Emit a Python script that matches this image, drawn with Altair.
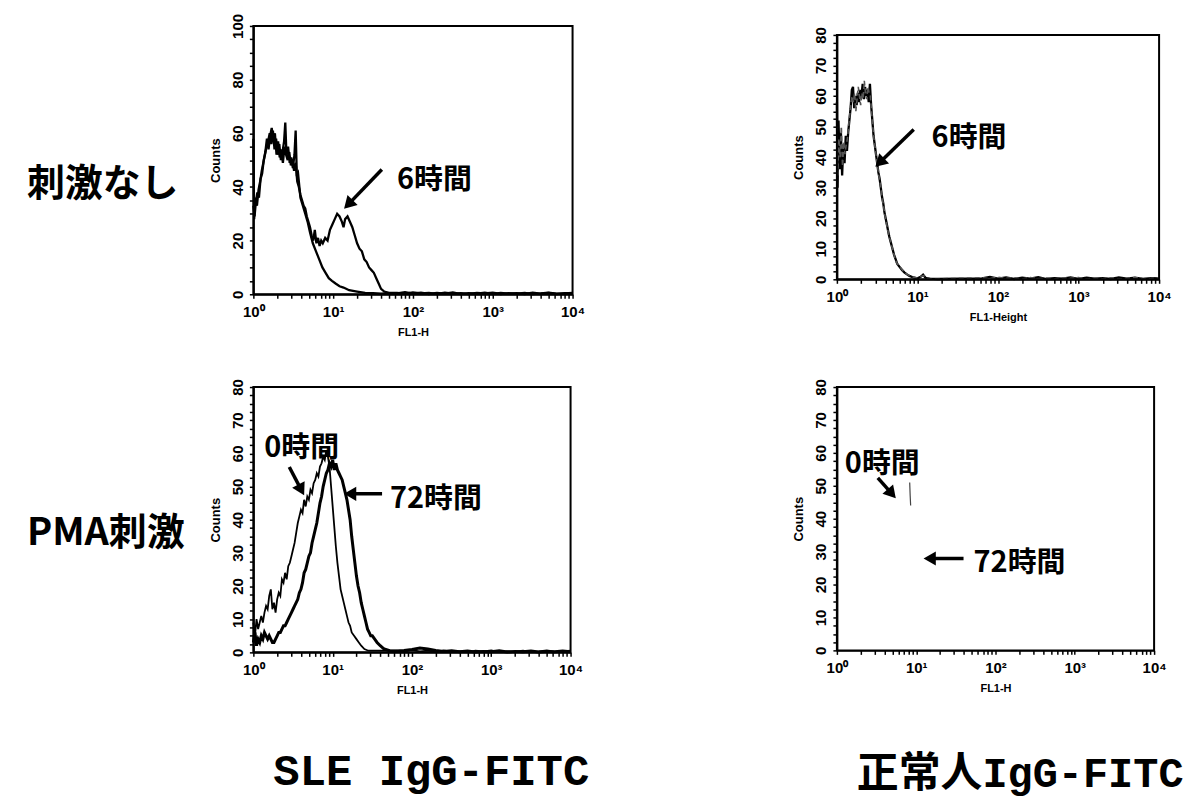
import altair as alt
import pandas as pd

# ---------------- data: log10(FL1 channel) positions and counts ----------------
# top-left panel (SLE IgG-FITC, no stimulation): 0 h and 6 h
TL_A_D = [0.000, 0.010, 0.025, 0.045, 0.065, 0.085, 0.105, 0.125, 0.145, 0.165,
          0.185, 0.205, 0.225, 0.245, 0.265, 0.285, 0.305, 0.325, 0.345, 0.365,
          0.385, 0.400, 0.415, 0.435, 0.455, 0.475, 0.495, 0.515, 0.530, 0.545,
          0.560, 0.590, 0.620, 0.650, 0.680, 0.710, 0.745, 0.785, 0.825, 0.865,
          0.905, 0.945, 0.985, 1.030, 1.080, 1.130, 1.200, 1.300, 1.400, 1.500,
          1.600, 1.700]
TL_A_Y = [58, 28, 36, 33, 39, 42, 46, 49, 52, 55,
          57, 60, 56, 61, 54, 58, 52, 56, 50, 53,
          57, 64, 52, 55, 49, 51, 47, 52, 61, 44,
          45, 36, 33, 30, 27, 23, 19, 16, 13, 10,
          8, 6, 5, 4, 3, 2.5, 1.5, 1, 0.5, 0.4,
          0.2, 0.4]
TL_B_D = [0.000, 0.015, 0.030, 0.050, 0.070, 0.090, 0.110, 0.130, 0.150, 0.170,
          0.190, 0.210, 0.230, 0.250, 0.270, 0.290, 0.310, 0.330, 0.350, 0.370,
          0.390, 0.410, 0.430, 0.450, 0.470, 0.490, 0.510, 0.530, 0.550, 0.570,
          0.590, 0.610, 0.630, 0.650, 0.670, 0.690, 0.710, 0.730, 0.750, 0.770,
          0.790, 0.810, 0.830, 0.850, 0.870, 0.900, 0.930, 0.960, 0.990, 1.020,
          1.050, 1.080, 1.110, 1.130, 1.150, 1.180, 1.210, 1.240, 1.270, 1.300,
          1.330, 1.360, 1.390, 1.420, 1.450, 1.480, 1.510, 1.540, 1.570, 1.600,
          1.640, 1.700]
TL_B_Y = [33, 29, 34, 38, 36, 43, 45, 50, 53, 58,
          54, 59, 62, 57, 60, 52, 57, 51, 54, 49,
          55, 52, 50, 53, 48, 50, 46, 49, 42, 40,
          37, 35, 33, 32, 29, 27, 25, 22, 20, 24,
          19, 21, 18, 20, 19, 21, 20, 24, 26, 28,
          30, 29, 27, 25, 28, 29, 27, 25, 22, 19,
          17, 16, 13, 12, 10, 9, 8, 6, 4, 2,
          1, 0.5]

# top-right panel (normal IgG-FITC, no stimulation)
TR_A_D = [0.000, 0.008, 0.020, 0.035, 0.050, 0.065, 0.080, 0.095, 0.110, 0.125,
          0.140, 0.155, 0.170, 0.185, 0.200, 0.215, 0.230, 0.245, 0.260, 0.275,
          0.290, 0.305, 0.320, 0.335, 0.350, 0.365, 0.380, 0.395, 0.410, 0.425,
          0.440, 0.455, 0.470, 0.485, 0.500, 0.515, 0.530, 0.545, 0.560, 0.575,
          0.590, 0.605, 0.620, 0.635, 0.650, 0.670, 0.690, 0.710, 0.730, 0.750,
          0.780, 0.810, 0.840, 0.870, 0.900, 0.950, 1.000, 1.040, 1.070, 1.100,
          1.150, 1.250]
TR_A_Y = [58, 30, 52, 36, 48, 34, 44, 38, 47, 42,
          48, 52, 56, 62, 63, 56, 60, 57, 61, 58,
          62, 60, 64, 59, 63, 60, 62, 58, 64, 57,
          52, 47, 44, 41, 38, 35, 33, 30, 27, 25,
          22, 20, 18, 16, 14, 12, 10, 8, 6.5, 5,
          4, 3, 2.2, 1.6, 1.1, 0.6, 0.3, 0.8, 1.5, 0.5,
          0.2, 0.1]
TR_B_D = [0.000, 0.010, 0.025, 0.040, 0.055, 0.070, 0.085, 0.100, 0.115, 0.130,
          0.145, 0.160, 0.175, 0.190, 0.205, 0.220, 0.235, 0.250, 0.265, 0.280,
          0.295, 0.310, 0.325, 0.340, 0.355, 0.370, 0.385, 0.400, 0.415, 0.430,
          0.445, 0.460, 0.475, 0.490, 0.505, 0.520, 0.535, 0.550, 0.565, 0.580,
          0.595, 0.610, 0.625, 0.640, 0.660, 0.680, 0.700, 0.720, 0.740, 0.770,
          0.800, 0.830, 0.860, 0.900, 0.950, 1.000, 1.050, 1.080, 1.120, 1.200]
TR_B_Y = [50, 34, 46, 40, 50, 37, 45, 41, 44, 46,
          50, 54, 58, 60, 58, 61, 55, 59, 63, 60,
          57, 61, 59, 65, 61, 59, 63, 61, 60, 55,
          50, 46, 43, 40, 37, 34, 32, 29, 26, 24,
          21, 19, 17, 15, 13, 11, 9, 7, 5.5, 4.5,
          3.5, 2.5, 1.8, 1.2, 0.7, 0.4, 1.0, 1.2, 0.3, 0.1]

# bottom-left panel (SLE IgG-FITC, PMA): 0 h and 72 h
BL_0_D = [0.00, 0.02, 0.04, 0.06, 0.08, 0.10, 0.12, 0.14, 0.16, 0.18,
          0.20, 0.22, 0.24, 0.26, 0.28, 0.30, 0.32, 0.34, 0.36, 0.38,
          0.40, 0.42, 0.44, 0.46, 0.48, 0.50, 0.52, 0.54, 0.56, 0.58,
          0.60, 0.62, 0.64, 0.66, 0.68, 0.70, 0.72, 0.74, 0.76, 0.78,
          0.80, 0.82, 0.84, 0.86, 0.88, 0.90, 0.92, 0.94, 0.96, 0.98,
          1.00, 1.02, 1.04, 1.06, 1.08, 1.10, 1.12, 1.14, 1.16, 1.18,
          1.20, 1.22, 1.24, 1.27, 1.30, 1.33, 1.36, 1.40, 1.45]
BL_0_Y = [9, 5, 10, 7, 9, 11, 9, 12, 14, 13,
          17, 19, 13, 15, 12, 16, 18, 17, 22, 21,
          24, 22, 26, 27, 29, 31, 33, 36, 39, 41,
          43, 42, 46, 44, 47, 46, 49, 48, 51, 52,
          54, 53, 56, 57, 59, 58, 61, 59, 56, 50,
          44, 38, 32, 27, 23, 19, 17, 15, 13, 11,
          9, 8, 6, 5, 4, 3, 2, 1, 0.5]
BL_72_D = [0.00, 0.02, 0.04, 0.06, 0.08, 0.10, 0.12, 0.14, 0.16, 0.18,
           0.20, 0.22, 0.24, 0.26, 0.28, 0.30, 0.32, 0.34, 0.36, 0.38,
           0.40, 0.42, 0.44, 0.46, 0.48, 0.50, 0.52, 0.54, 0.56, 0.58,
           0.60, 0.62, 0.64, 0.66, 0.68, 0.70, 0.72, 0.74, 0.76, 0.78,
           0.80, 0.82, 0.84, 0.86, 0.88, 0.90, 0.92, 0.94, 0.96, 0.98,
           1.00, 1.02, 1.04, 1.06, 1.08, 1.10, 1.12, 1.14, 1.16, 1.18,
           1.20, 1.22, 1.24, 1.26, 1.28, 1.30, 1.32, 1.34, 1.36, 1.38,
           1.40, 1.42, 1.44, 1.46, 1.48, 1.50, 1.53, 1.56, 1.60, 1.65,
           1.72]
BL_72_Y = [3, 6, 2, 4, 3, 5, 4, 6, 5, 4,
           5, 4, 3, 3, 4, 5, 6, 6, 7, 8,
           8, 9, 10, 11, 12, 13, 14, 15, 16, 18,
           19, 21, 24, 25, 27, 29, 30, 33, 35, 37,
           39, 42, 45, 47, 50, 52, 54, 55, 57, 56,
           58, 55, 57, 55, 54, 53, 52, 50, 48, 46,
           43, 40, 35, 31, 27, 23, 20, 18, 15, 13,
           11, 9, 7, 6, 5, 5, 4, 3, 2, 1,
           0.5]

# bottom-right panel: only a faint fragment of the trace survives
BR_FRAG_D = [0.918, 0.924, 0.930]
BR_FRAG_Y = [51, 47, 44]

# near-zero tails out to 10^4
TAIL_D = [1.80, 1.90, 2.00, 2.10, 2.20, 2.30, 2.40, 2.50, 2.60, 2.70, 2.80, 2.90,
          3.00, 3.10, 3.20, 3.30, 3.40, 3.50, 3.60, 3.70, 3.80, 3.90, 4.00]
TAIL_Y1 = [0.3, 0.8, 0.2, 0.6, 0.1, 0.5, 0.2, 0.7, 0.1, 0.4, 0.2, 0.6,
           0.1, 0.5, 0.2, 0.4, 0.1, 0.6, 0.2, 0.5, 0.1, 0.4, 0.3]
TAIL_Y2 = [0.5, 0.2, 0.7, 0.3, 0.5, 0.1, 0.6, 0.2, 0.4, 0.1, 0.5, 0.3,
           0.6, 0.1, 0.4, 0.2, 0.5, 0.1, 0.3, 0.6, 0.2, 0.3, 0.5]
TAIL_Y3 = [0.4, 0.6, 0.9, 1.3, 1.0, 0.6, 0.3, 0.5, 0.2, 0.4, 0.1, 0.3,
           0.2, 0.5, 0.1, 0.3, 0.2, 0.4, 0.1, 0.3, 0.2, 0.4, 0.2]

# axes
X_TICKS = [1, 2, 3, 4, 5, 6, 7, 8, 9,
           10, 20, 30, 40, 50, 60, 70, 80, 90,
           100, 200, 300, 400, 500, 600, 700, 800, 900,
           1000, 2000, 3000, 4000, 5000, 6000, 7000, 8000, 9000, 10000]
X_DECADES = [1, 10, 100, 1000, 10000]
X_LABELS = ['10⁰', '10¹', '10²', '10³', '10⁴']
Y_TICKS_100 = [0, 5, 10, 15, 20, 25, 30, 35, 40, 45, 50, 55, 60, 65, 70, 75, 80,
               85, 90, 95, 100]
Y_TICKS_80 = [0, 2.5, 5, 7.5, 10, 12.5, 15, 17.5, 20, 22.5, 25, 27.5, 30, 32.5,
              35, 37.5, 40, 42.5, 45, 47.5, 50, 52.5, 55, 57.5, 60, 62.5, 65,
              67.5, 70, 72.5, 75, 77.5, 80]
X_TITLES = ['FL1-H', 'FL1-Height', 'FL1-H', 'FL1-H']
Y_TITLE = 'Counts'

# text
ROW_LABELS = ['刺激なし', 'PMA刺激']
COL_LABELS = ['SLE IgG-FITC', '正常人IgG-FITC']

# annotations: (text, log10 x, counts)
TL_NOTES = [('6時間', 1.80, 42.4)]
TR_NOTES = [('6時間', 1.176, 46.4)]
BL_NOTES = [('0時間', 0.138, 61.7), ('72時間', 1.723, 46.3)]
BR_NOTES = [('0時間', 0.100, 56.7), ('72時間', 1.723, 26.4)]
# arrows: (start log10 x, start counts, end log10 x, end counts, head angle)
TL_ARROWS = [(1.61, 46.5, 1.19, 33.5, 224)]
TR_ARROWS = [(0.954, 49.0, 0.532, 38.2, 226)]
BL_ARROWS = [(0.453, 55.9, 0.604, 49.0, 152), (1.623, 47.8, 1.22, 47.8, 270)]
BR_ARROWS = [(0.516, 52.4, 0.692, 47.6, 139), (1.597, 27.9, 1.17, 27.9, 270)]


# ---------------- helpers ----------------
def curve_df(d, y):
    assert len(d) == len(y), (len(d), len(y))
    return pd.DataFrame({'x': [10 ** v for v in d], 'y': y})


XEXPR = "".join(f"datum.value == {v} ? '{lab}' : " for v, lab in zip(X_DECADES, X_LABELS)) + "''"
ONE = pd.DataFrame({'t': ['']})
NOTE_FONT = 'Noto Sans CJK JP'
MONO_FONT = 'Liberation Mono, Noto Sans CJK JP'


def label_layer(text, px, py, font, size):
    return alt.Chart(pd.DataFrame({'t': [text]})).mark_text(
        align='left', baseline='middle', font=font, fontSize=size,
        fontWeight='bold', color='black'
    ).encode(x=alt.value(px), y=alt.value(py), text='t:N')


def anchor_layer(px, py):
    # invisible layout anchor that fixes the page origin / extent
    return alt.Chart(ONE).mark_point(opacity=0, size=1).encode(
        x=alt.value(px), y=alt.value(py))


def panel(curves, ymax, yticks, ystep, w, h, xtitle, notes, arrows, extras, top_gap=0):
    xs = alt.Scale(type='log', domain=[1, 10000])
    if top_gap:
        ys = alt.Scale(domain=[0, ymax], nice=False, range=[h, top_gap])
    else:
        ys = alt.Scale(domain=[0, ymax], nice=False)
    xax = alt.Axis(values=X_TICKS, labelExpr=XEXPR, title=xtitle, labelAngle=0,
                   labelFlush=False, labelOverlap=False, labelBound=False,
                   tickSize=4, labelPadding=6, titlePadding=7, grid=False,
                   labelFontSize=15)
    yax = alt.Axis(values=yticks,
                   labelExpr=f"datum.value % {ystep} == 0 ? format(datum.value, 'd') : ''",
                   labelAngle=270, labelAlign='center', labelBaseline='bottom',
                   labelOverlap=False, labelFlush=False, title=Y_TITLE,
                   tickSize=4, labelPadding=4, titlePadding=8, grid=False,
                   labelFontSize=15, titleFontSize=13)
    X = lambda f: alt.X(f'{f}:Q', scale=xs, axis=xax)
    Y = lambda f: alt.Y(f'{f}:Q', scale=ys, axis=yax)
    layers = []
    for df, style in curves:
        layers.append(alt.Chart(df).mark_line(interpolate='linear', **style).encode(
            x=X('x'), y=Y('y')))
    if top_gap:
        frame = pd.DataFrame({'x': [1], 'x2': [10000], 'y': [0], 'y2': [ymax]})
        layers.append(alt.Chart(frame).mark_rect(
            fillOpacity=0, stroke='black', strokeWidth=2).encode(
            x=X('x'), x2='x2:Q', y=Y('y'), y2='y2:Q'))
    if notes:
        ndf = pd.DataFrame({'t': [n[0] for n in notes],
                            'x': [10 ** n[1] for n in notes],
                            'y': [n[2] for n in notes]})
        layers.append(alt.Chart(ndf).mark_text(
            align='left', baseline='middle', font=NOTE_FONT, fontSize=29,
            fontWeight='bold', color='black').encode(
            x=X('x'), y=Y('y'), text='t:N'))
    if arrows:
        adf = pd.DataFrame({'x': [10 ** a[0] for a in arrows], 'y': [a[1] for a in arrows],
                            'x2': [10 ** a[2] for a in arrows], 'y2': [a[3] for a in arrows],
                            'ang': [a[4] for a in arrows]})
        layers.append(alt.Chart(adf).mark_rule(color='black', strokeWidth=3.5).encode(
            x=X('x'), y=Y('y'), x2='x2:Q', y2='y2:Q'))
        layers.append(alt.Chart(adf).mark_point(
            shape='triangle-up', filled=True, size=200, color='black', opacity=1).encode(
            x=X('x2'), y=Y('y2'), angle=alt.Angle('ang:Q', scale=None)))
    layers.extend(extras)
    out = alt.layer(*layers).properties(width=w, height=h)
    if top_gap:
        out = out.properties(view=alt.ViewBackground(stroke='transparent', strokeWidth=0))
    return out


SOLID = {'color': 'black', 'strokeWidth': 2.3}
THICK = {'color': 'black', 'strokeWidth': 3}
THIN = {'color': 'black', 'strokeWidth': 1.8}
DASHED = {'color': '#555555', 'strokeWidth': 1.6, 'strokeDash': [5, 3]}

TL = panel(
    [(curve_df(TL_A_D + TAIL_D, TL_A_Y + TAIL_Y1), SOLID),
     (curve_df(TL_B_D + TAIL_D, TL_B_Y + TAIL_Y2), SOLID)],
    100, Y_TICKS_100, 20, 320, 269, X_TITLES[0], TL_NOTES, TL_ARROWS,
    [anchor_layer(-252, -23), label_layer(ROW_LABELS[0], -227, 159, NOTE_FONT, 38)])

TR = panel(
    [(curve_df(TR_A_D + TAIL_D, TR_A_Y + TAIL_Y1), SOLID),
     (curve_df(TR_B_D + TAIL_D, TR_B_Y + TAIL_Y2), DASHED)],
    80, Y_TICKS_80, 10, 323, 254, X_TITLES[1], TR_NOTES, TR_ARROWS, [], top_gap=9)

BL = panel(
    [(curve_df(BL_0_D + TAIL_D, BL_0_Y + TAIL_Y2), THIN),
     (curve_df(BL_72_D + TAIL_D, BL_72_Y + TAIL_Y3), THICK)],
    80, Y_TICKS_80, 10, 318, 266, X_TITLES[2], BL_NOTES, BL_ARROWS,
    [label_layer(ROW_LABELS[1], -227, 147, NOTE_FONT, 38),
     label_layer(COL_LABELS[0], 20, 386, MONO_FONT, 44)])

BR = panel(
    [(curve_df(BR_FRAG_D, BR_FRAG_Y), {'color': '#444444', 'strokeWidth': 1.2})],
    80, Y_TICKS_80, 10, 318, 264, X_TITLES[3], BR_NOTES, BR_ARROWS,
    [label_layer(COL_LABELS[1], 20, 388, MONO_FONT, 42),
     anchor_layer(357, 414)])

chart = alt.concat(
    TL, TR, BL, BR, columns=2, bounds='flush',
    spacing=alt.RowColnumber(row=93, column=265)
).properties(
    padding=0, background='white'
).configure_view(
    stroke='black', strokeWidth=2
).configure_axis(
    domainColor='black', domainWidth=2, tickColor='black', tickWidth=1.5,
    labelColor='black', titleColor='black', labelFont='Liberation Sans',
    titleFont='Liberation Sans', labelFontSize=14, labelFontWeight='bold',
    titleFontSize=11, titleFontWeight='bold'
)

chart.save("out.html", embed_options={"renderer": "svg", "actions": False})
